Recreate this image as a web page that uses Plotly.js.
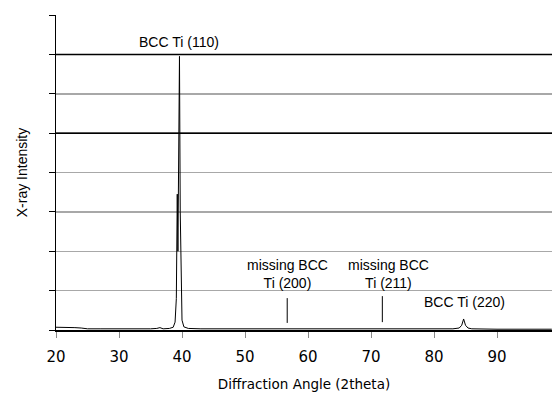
<!DOCTYPE html>
<html>
<head>
<meta charset="utf-8">
<script src="https://cdn.plot.ly/plotly-3.0.1.min.js"></script>
<style>html,body{margin:0;padding:0;background:#fff;}#chart{width:552px;height:397px;}</style>
</head>
<body>
<div id="chart"></div>
<script>
// Diffraction pattern (2theta, intensity in grid units)
var angle = [20, 21, 22, 23, 24, 24.5, 25, 27, 30, 32, 33, 34, 35, 36, 36.5, 37, 38, 38.6, 38.9, 39.1, 39.25, 39.35, 39.45, 39.6, 39.72, 39.85, 40.0, 40.3, 41, 43, 46, 50, 55, 60, 65, 70, 75, 80, 83, 84, 84.4, 84.7, 85.0, 85.4, 86, 90, 95, 98.7];
var intensity = [0.07, 0.07, 0.06, 0.06, 0.05, 0.04, 0.03, 0.03, 0.03, 0.02, 0.03, 0.03, 0.03, 0.04, 0.06, 0.03, 0.04, 0.07, 0.2, 0.8, 3.45, 2.0, 4.5, 6.95, 3.0, 0.8, 0.25, 0.08, 0.04, 0.03, 0.03, 0.03, 0.03, 0.02, 0.02, 0.02, 0.02, 0.02, 0.03, 0.05, 0.12, 0.28, 0.12, 0.05, 0.03, 0.02, 0.02, 0.02];

// Expected but missing reflections
var missingAngle = [56.7, 71.8];
var missingBottom = [0.18, 0.2];
var missingTop = [0.81, 0.86];

// Labels
var labelText = ["BCC Ti (110)", "missing BCC<br>Ti (200)", "missing BCC<br>Ti (211)", "BCC Ti (220)"];
var labelX = [39.6, 56.7, 72.7, 84.9];
var labelY = [7.31, 1.42, 1.42, 0.71];

var xTicks = [20, 30, 40, 50, 60, 70, 80, 90];
var yTicks = [0, 1, 2, 3, 4, 5, 6, 7, 8];
var darkGrid = [5, 7];

var mx = [], my = [];
for (var i = 0; i < missingAngle.length; i++) {
  mx.push(missingAngle[i], missingAngle[i], null);
  my.push(missingBottom[i], missingTop[i], null);
}

var traces = [
  {x: angle, y: intensity, type: 'scatter', mode: 'lines', line: {color: '#000', width: 1}, hoverinfo: 'none'},
  {x: mx, y: my, type: 'scatter', mode: 'lines', line: {color: '#000', width: 1}, hoverinfo: 'none'}
];

var shapes = darkGrid.map(function (v) {
  return {type: 'line', xref: 'paper', x0: 0, x1: 1, yref: 'y', y0: v, y1: v, line: {color: '#000', width: 1.5}, layer: 'above'};
});

var annotations = labelText.map(function (t, i) {
  return {x: labelX[i], y: labelY[i], text: t, showarrow: false, xanchor: 'center', yanchor: 'middle',
    font: {family: '"Liberation Sans", Arial, sans-serif', size: 14, color: '#000'}};
});

var layout = {
  width: 552, height: 397,
  margin: {l: 56, r: 0, t: 15, b: 67},
  paper_bgcolor: '#fff', plot_bgcolor: '#fff',
  showlegend: false,
  xaxis: {
    range: [20, 98.73], tickvals: xTicks, ticktext: xTicks.map(String),
    ticks: 'outside', ticklen: 6, tickcolor: '#888', tickwidth: 1,
    ticklabelstandoff: 6,
    showgrid: false, zeroline: false,
    showline: true, linecolor: '#000', linewidth: 2,
    tickfont: {family: '"DejaVu Sans", sans-serif', size: 15, color: '#000'},
    title: {text: 'Diffraction Angle (2theta)', standoff: 15, font: {family: '"DejaVu Sans", sans-serif', size: 13.5, color: '#000'}}
  },
  yaxis: {
    range: [0, 8], tickvals: yTicks, showticklabels: false,
    ticks: 'outside', ticklen: 6, tickcolor: '#000', tickwidth: 1,
    showgrid: true, gridcolor: '#a8a8a8', gridwidth: 1.5, zeroline: false,
    showline: true, linecolor: '#000', linewidth: 1.5,
    title: {text: 'X-ray Intensity', standoff: 17, font: {family: '"Liberation Sans", Arial, sans-serif', size: 14, color: '#000'}}
  },
  shapes: shapes,
  annotations: annotations
};

Plotly.newPlot('chart', traces, layout, {staticPlot: true, displayModeBar: false});
</script>
</body>
</html>
